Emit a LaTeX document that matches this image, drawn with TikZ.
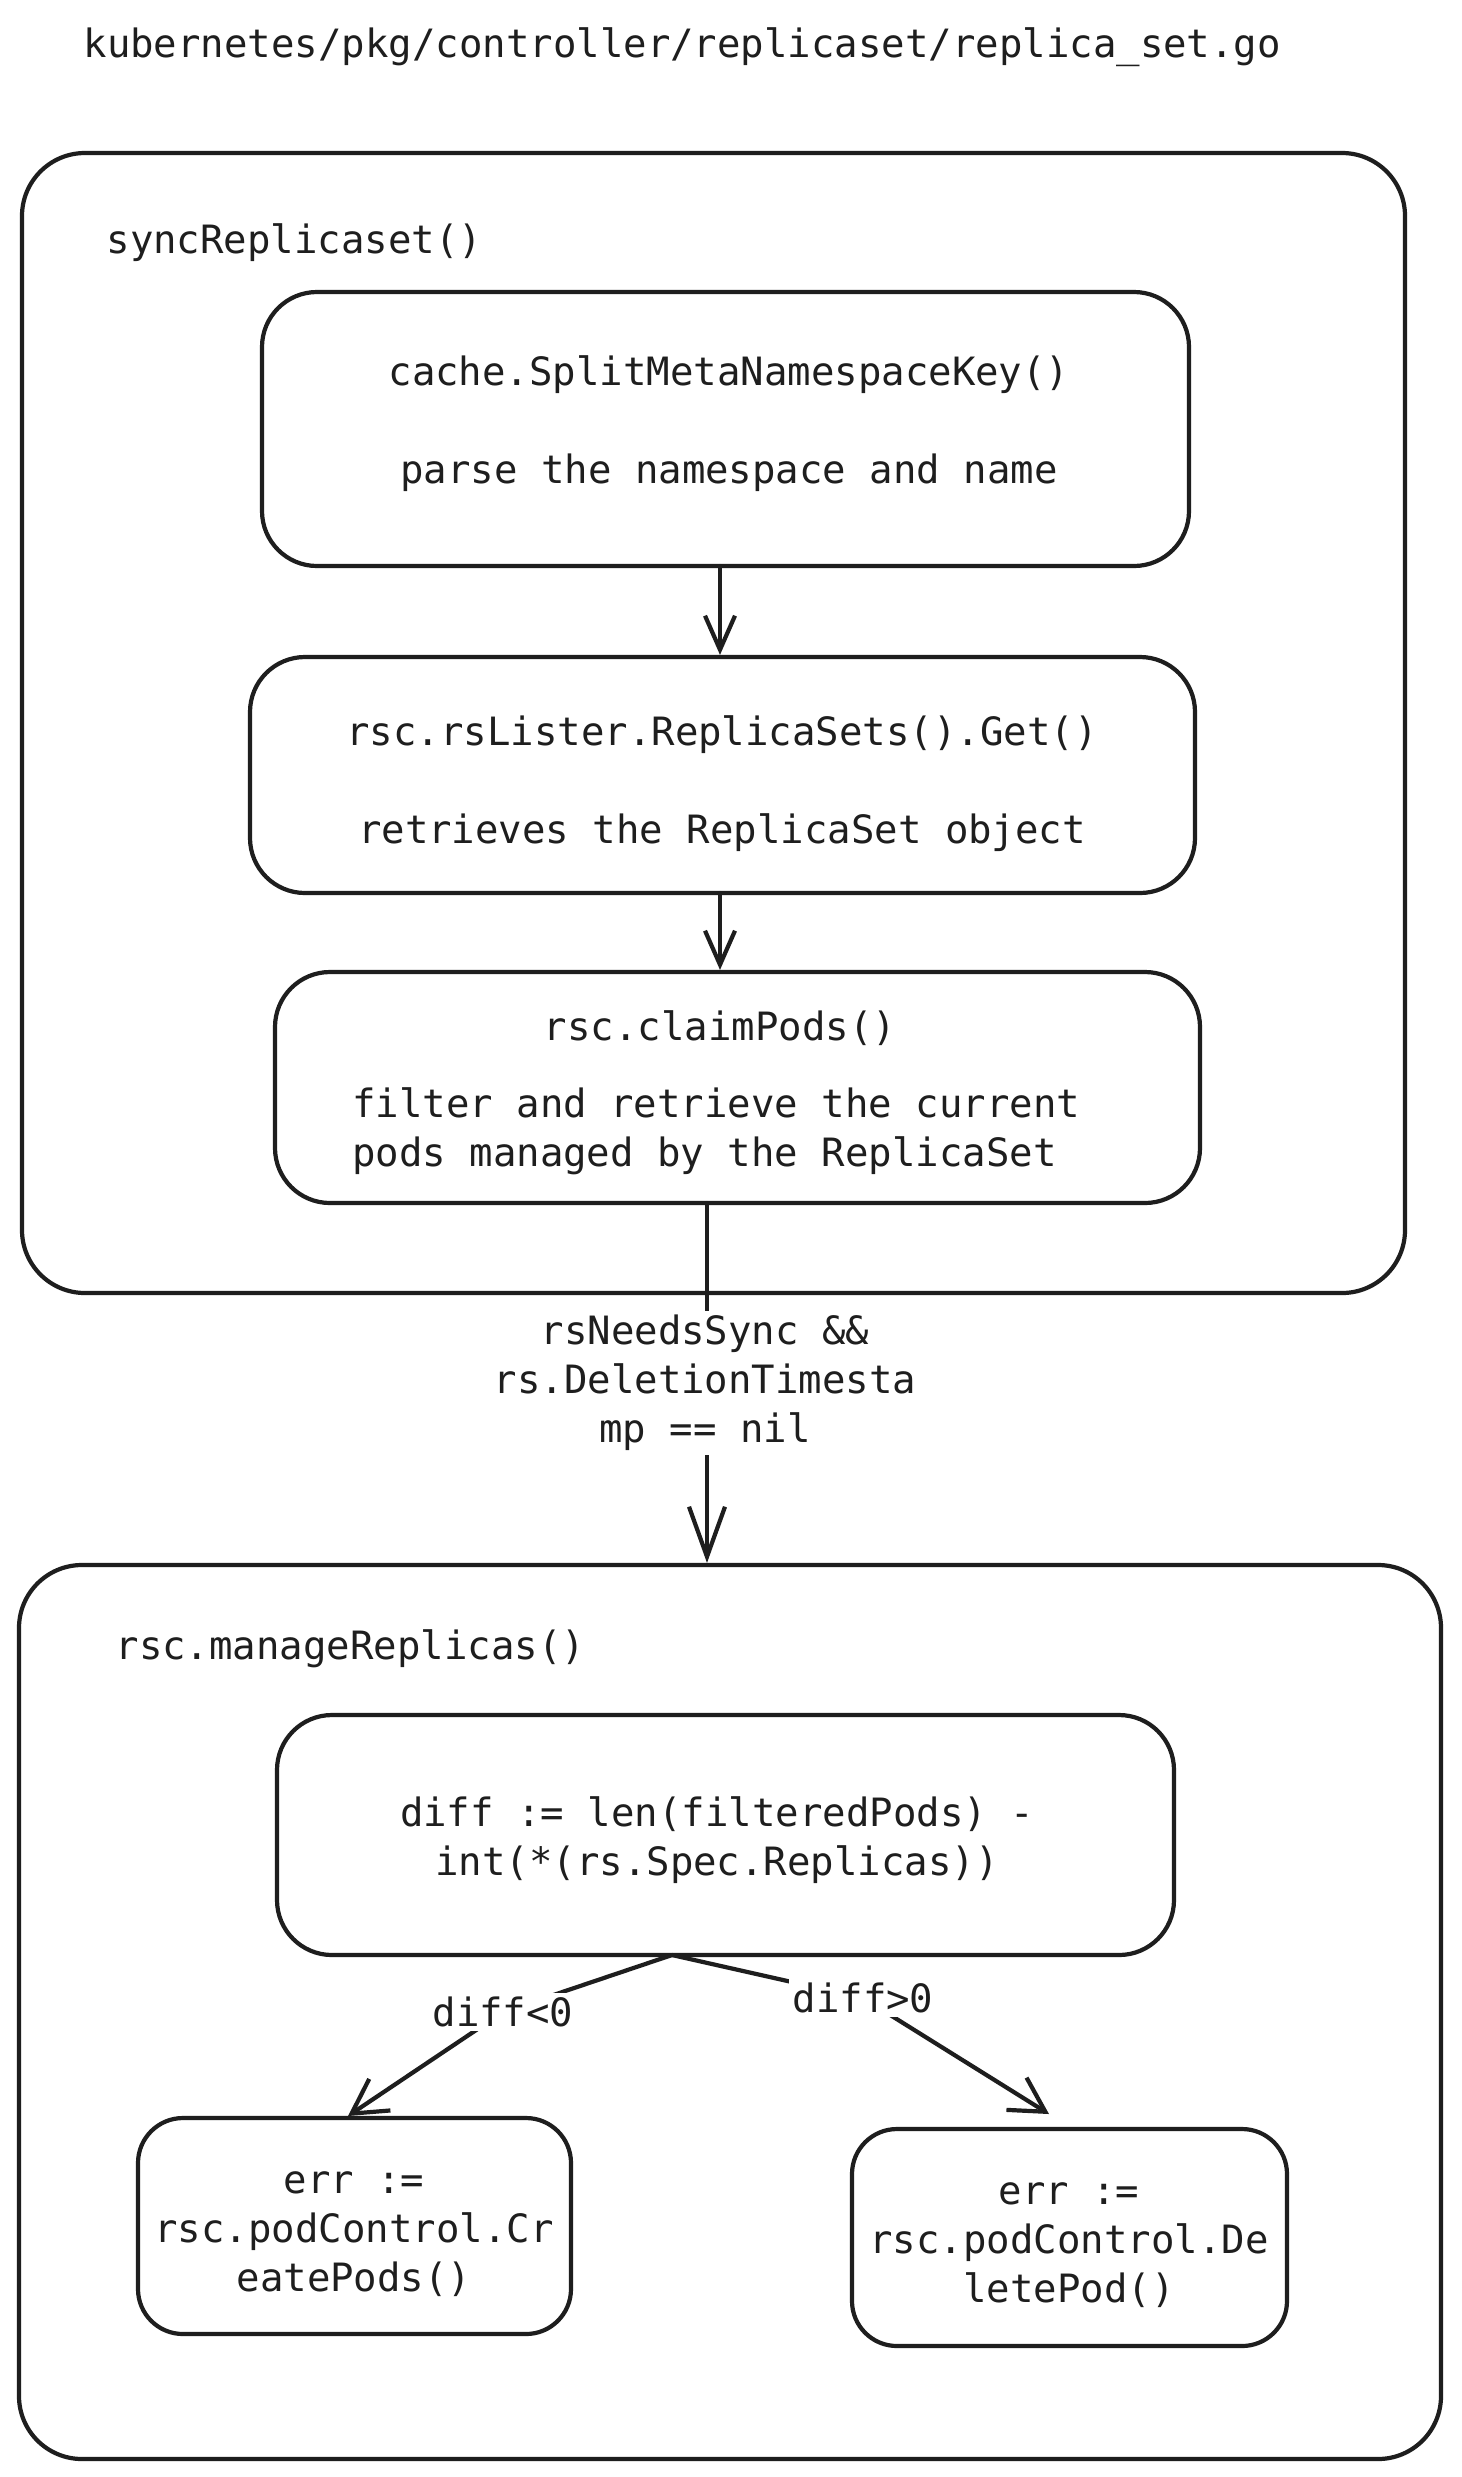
\documentclass[tikz,border=0pt]{standalone}
\usepackage{fontspec}
\setmainfont{DejaVu Sans Mono}
\usetikzlibrary{arrows.meta}
\definecolor{ink}{HTML}{1E1E1E}
\begin{document}
\begin{tikzpicture}[x=1pt,y=-1pt,
  every node/.style={font=\fontsize{39}{49}\selectfont, text=ink},
  box/.style={draw=ink, line width=4.2pt, rounded corners=55pt, rectangle, inner sep=0pt, align=center},
  outer/.style={box, rounded corners=63pt},
  small/.style={box, rounded corners=45pt},
  txt/.style={align=center, inner sep=0pt},
  conn/.style={draw=ink, line width=4.2pt, line cap=round, line join=round},
  arrS/.style={conn, -{Straight Barb[length=34pt,width=30pt,line width=4.2pt]}},
  arrL/.style={conn, -{Straight Barb[length=50pt,width=36pt,line width=4.2pt]}},
  arrD/.style={conn, -{Straight Barb[length=34pt,width=38pt,line width=4.2pt]}},
  lbl/.style={fill=white, inner sep=4pt, align=center}
]
\useasboundingbox (0,0) rectangle (1462,2477);
\fill[white] (0,0) rectangle (1462,2477);

% title
\node[anchor=west] (title) at (80,47) {kubernetes/pkg/controller/replicaset/replica\_set.go};

% outer box 1
\node[outer, minimum width=1383pt, minimum height=1140pt] (sync) at (713.5,723) {};
\node[anchor=west] (synct) at (103,243) {syncReplicaset()};

\node[box, minimum width=927pt, minimum height=274pt] (A) at (725.5,429) {};
\node[txt] (At) at (729,424)
  {cache.SplitMetaNamespaceKey()\\[49pt]parse the namespace and name};
\node[box, minimum width=945pt, minimum height=236pt] (B) at (722.5,775) {};
\node[txt] (Bt) at (722,784)
  {rsc.rsLister.ReplicaSets().Get()\\[49pt]retrieves the ReplicaSet object};
\node[box, minimum width=925pt, minimum height=231pt] (C) at (737.5,1087.5) {};
\node (Ct) at (720,1028) {rsc.claimPods()};
\node[anchor=west, align=left, inner sep=0pt] (Cb) at (352,1131) {filter and retrieve the current\\pods managed by the ReplicaSet};

% outer box 2
\node[outer, minimum width=1422pt, minimum height=894pt] (manage) at (730,2012) {};
\node[anchor=west] (managet) at (112,1649) {rsc.manageReplicas()};

\node[box, minimum width=897pt, minimum height=240pt] (D) at (725.5,1835) {};
\node[txt] (Dt) at (717,1840) {diff := len(filteredPods) -\\int(*(rs.Spec.Replicas))};
\node[small, minimum width=433pt, minimum height=216pt] (E) at (354.5,2226) {};
\node[txt] (Et) at (354,2234) {err :=\\rsc.podControl.Cr\\eatePods()};
\node[small, minimum width=435pt, minimum height=217pt] (F) at (1069.5,2237.5) {};
\node[txt] (Ft) at (1069,2245) {err :=\\rsc.podControl.De\\letePod()};

% connectors
\coordinate (ab) at (720,566);
\coordinate (bc) at (720,893);
\draw[arrS] (ab) -- (ab |- B.north);
\draw[arrS] (bc) -- (bc |- C.north);

\coordinate (cs) at (707,1203);
\draw[arrL] (cs) -- (cs |- manage.north);
\node[lbl] (cond) at (705,1383) {rsNeedsSync \&\&\\rs.DeletionTimesta\\mp == nil};

\coordinate (dsplit) at (672,1955);
\coordinate (m1) at (503,2012);
\coordinate (m2) at (863,1998);
\coordinate (et) at (348,2116);
\coordinate (ft) at (1049,2114);
\draw[arrD] (dsplit) -- (m1) -- (et);
\draw[arrD] (dsplit) -- (m2) -- (ft);
\node[lbl] (l1) at (m1) {diff<0};
\node[lbl] (l2) at (m2) {diff>0};
\end{tikzpicture}
\end{document}
